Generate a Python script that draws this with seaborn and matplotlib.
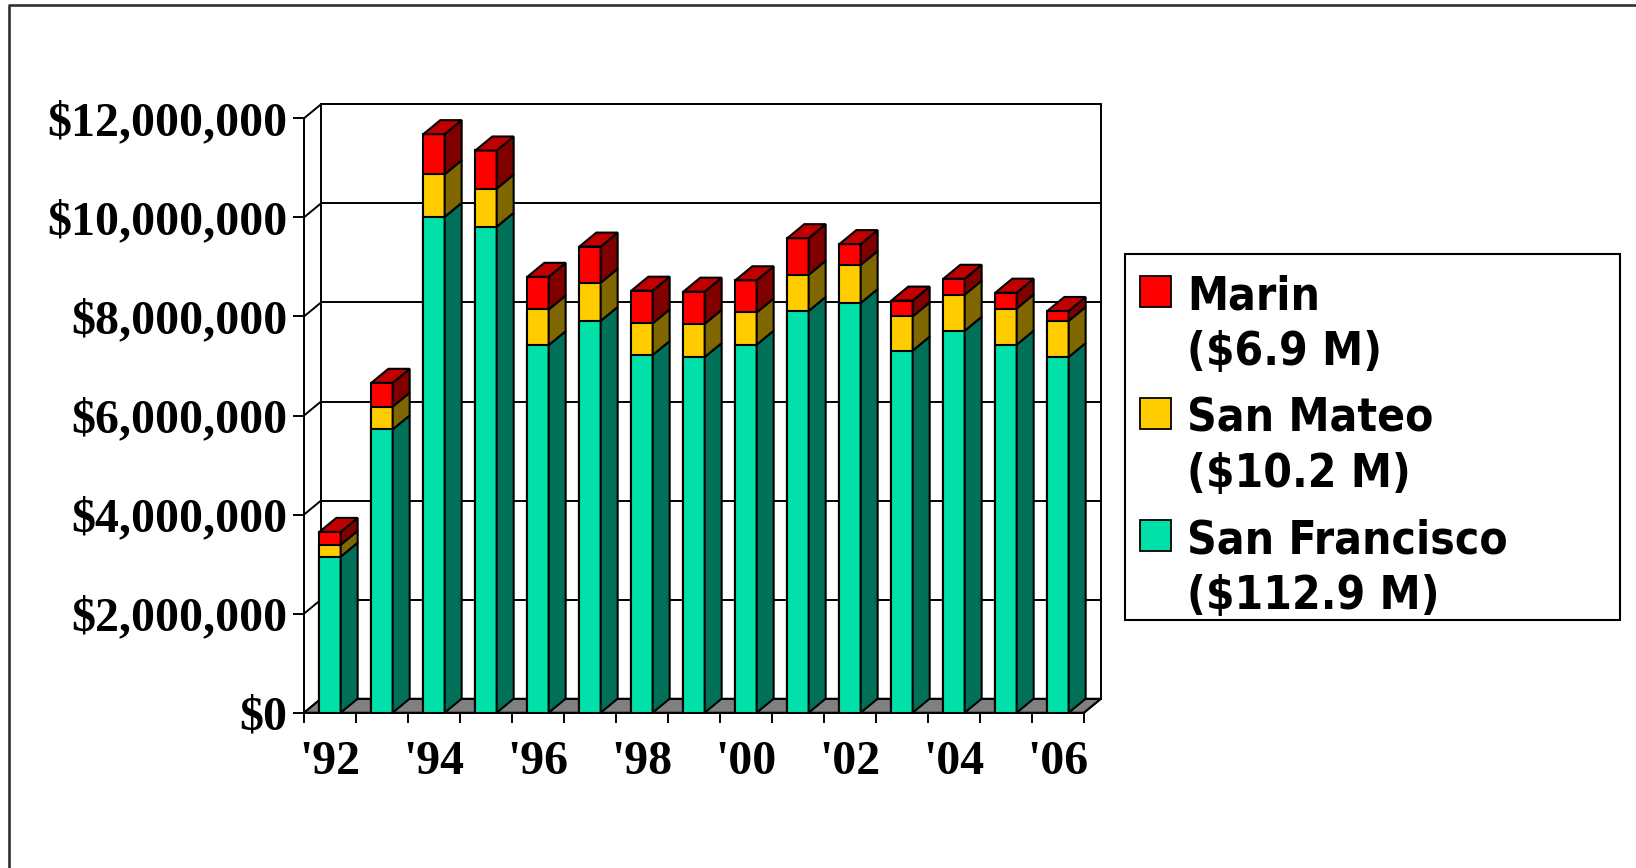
import numpy as np
import pandas as pd
import matplotlib
matplotlib.use("Agg")
import matplotlib.pyplot as plt
import seaborn as sns
from matplotlib.patches import Polygon, Rectangle
from matplotlib.lines import Line2D
from matplotlib.ticker import FuncFormatter, FixedLocator

# ---- data (dollars per year, stacked by county) ----
years = ["'92", "'93", "'94", "'95", "'96", "'97", "'98", "'99",
         "'00", "'01", "'02", "'03", "'04", "'05", "'06"]
san_francisco = [3.15e6, 5.72e6, 10.01e6, 9.81e6, 7.42e6, 7.91e6, 7.22e6, 7.18e6,
                 7.43e6, 8.11e6, 8.27e6, 7.31e6, 7.71e6, 7.43e6, 7.18e6]
san_mateo = [0.24e6, 0.46e6, 0.86e6, 0.77e6, 0.72e6, 0.77e6, 0.64e6, 0.67e6,
             0.65e6, 0.73e6, 0.77e6, 0.69e6, 0.73e6, 0.73e6, 0.73e6]
marin = [0.26e6, 0.48e6, 0.81e6, 0.77e6, 0.66e6, 0.73e6, 0.66e6, 0.65e6,
         0.65e6, 0.74e6, 0.42e6, 0.32e6, 0.32e6, 0.32e6, 0.20e6]
legend_labels = [("Marin", "($6.9 M)"),
                 ("San Mateo", "($10.2 M)"),
                 ("San Francisco", "($112.9 M)")]
y_ticks = [0, 2e6, 4e6, 6e6, 8e6, 10e6, 12e6]

# ---- colours: front face, side face, top face ----
GREEN = ("#00E0A8", "#007058", "#00A880")
YELLOW = ("#FFCC00", "#806600", "#C09900")
RED = ("#FF0000", "#800000", "#C00000")

sns.set_style("white", rc={"text.color": "black", "axes.labelcolor": "black",
                           "xtick.color": "black", "ytick.color": "black"})
plt.rcParams["font.family"] = ["Liberation Serif", "DejaVu Serif"]

W, H, DPI = 1636, 868, 100
fig = plt.figure(figsize=(W / DPI, H / DPI), dpi=DPI)

# front plane of the plot area (pixels)
x0_px, x1_px = 304, 1084
ytop_px, ybot_px = 118.3, 712.7
ax = fig.add_axes([x0_px / W, (H - ybot_px) / H,
                   (x1_px - x0_px) / W, (ybot_px - ytop_px) / H])
ax.set_facecolor("none")

n = len(years)
ymax = 12e6
# depth of the 3-D box in pixels, converted into data units
depth_dx_px, depth_dy_px = 17, 14
dx = depth_dx_px / ((x1_px - x0_px) / n)
dy = depth_dy_px * ymax / (ybot_px - ytop_px)

sf = np.array(san_francisco)
sm = np.array(san_mateo)
mr = np.array(marin)
df = pd.DataFrame({"year": years,
                   "sf": sf,
                   "sf_sm": sf + sm,
                   "total": sf + sm + mr})

bar_w = 0.41
edge_lw = 1.5
wall_lw = 1.4

# floor and walls (drawn behind the bars)
xl, xr = -0.5, n - 0.5
floor = Polygon([(xl, 0), (xr, 0), (xr + dx, dy), (xl + dx, dy)],
                closed=True, facecolor="#808080", edgecolor="black",
                lw=wall_lw, zorder=1, clip_on=False)
ax.add_patch(floor)
for v in y_ticks:
    ax.add_line(Line2D([xl + dx, xr + dx], [v + dy, v + dy], color="black",
                       lw=wall_lw, zorder=1.5, clip_on=False))
    ax.add_line(Line2D([xl, xl + dx], [v, v + dy], color="black",
                       lw=wall_lw, zorder=1.5, clip_on=False))
for xv in (xl + dx, xr + dx):
    ax.add_line(Line2D([xv, xv], [dy, ymax + dy], color="black",
                       lw=wall_lw, zorder=1.5, clip_on=False))
ax.add_line(Line2D([xr, xr + dx], [0, dy], color="black",
                   lw=wall_lw, zorder=1.5, clip_on=False))

# front faces: cumulative totals layered from tallest to shortest
for col, colors in (("total", RED), ("sf_sm", YELLOW), ("sf", GREEN)):
    sns.barplot(data=df, x="year", y=col, order=years, color=colors[0],
                saturation=1, width=bar_w, edgecolor="black",
                linewidth=edge_lw, errorbar=None, ax=ax, zorder=4)

# side and top faces built from the same stacked values
for i in range(n):
    right = i + bar_w / 2
    left = i - bar_w / 2
    bounds = [(0, sf[i], GREEN), (sf[i], sf[i] + sm[i], YELLOW),
              (sf[i] + sm[i], sf[i] + sm[i] + mr[i], RED)]
    for lo, hi, colors in bounds:
        side = Polygon([(right, lo), (right + dx, lo + dy),
                        (right + dx, hi + dy), (right, hi)],
                       closed=True, facecolor=colors[1], edgecolor="black",
                       lw=edge_lw, zorder=5, clip_on=False)
        ax.add_patch(side)
    top = sf[i] + sm[i] + mr[i]
    lid = Polygon([(left, top), (right, top), (right + dx, top + dy),
                   (left + dx, top + dy)],
                  closed=True, facecolor=RED[2], edgecolor="black",
                  lw=edge_lw, zorder=5, clip_on=False)
    ax.add_patch(lid)

# axes, ticks, labels
ax.set_xlim(xl, xr)
ax.set_ylim(0, ymax)
ax.set_xlabel("")
ax.set_ylabel("")
for s in ("top", "right"):
    ax.spines[s].set_visible(False)
for s in ("left", "bottom"):
    ax.spines[s].set_color("black")
    ax.spines[s].set_linewidth(wall_lw)
    ax.spines[s].set_zorder(6)

ax.set_yticks(y_ticks)
ax.yaxis.set_major_formatter(FuncFormatter(lambda v, p: f"${v:,.0f}"))
ax.tick_params(axis="y", which="major", direction="out", length=8,
               width=1.4, color="black", labelcolor="black", pad=4,
               labelsize=34.5, left=True)

label_pos = list(range(0, n, 2))
ax.xaxis.set_major_locator(FixedLocator(label_pos))
ax.set_xticklabels([years[i] for i in label_pos])
ax.xaxis.set_minor_locator(FixedLocator(np.arange(xl, xr + 0.01, 1.0)))
ax.tick_params(axis="x", which="major", length=0, pad=20, labelsize=34.5,
               labelcolor="black", bottom=True)
ax.tick_params(axis="x", which="minor", direction="out", length=7.5,
               width=1.4, color="black", bottom=True)
for lab in ax.get_xticklabels() + ax.get_yticklabels():
    lab.set_fontweight("bold")
    lab.set_color("black")

# legend box
def px(x, y):
    return x / W, 1 - y / H

lx0, ly0, lx1, ly1 = 1125, 254.3, 1620, 620
fig.add_artist(Rectangle(px(lx0, ly1), (lx1 - lx0) / W, (ly1 - ly0) / H,
                         transform=fig.transFigure, facecolor="white",
                         edgecolor="black", lw=1.5))
baselines = [(309, 365), (431, 487), (553, 608.5)]
for (name, total), (b1, b2), colors in zip(legend_labels, baselines,
                                           (RED, YELLOW, GREEN)):
    fig.add_artist(Rectangle(px(1140, b1 - 2), 31 / W, 31 / H,
                             transform=fig.transFigure, facecolor=colors[0],
                             edgecolor="black", lw=1.3))
    for txt, b in ((name, b1), (total, b2)):
        fig.text(*px(1187, b), txt, fontsize=33, fontweight="bold",
                 family=["DejaVu Sans"], fontstretch="condensed",
                 color="black", va="baseline", ha="left")

# outer frame of the chart area
fig.add_artist(Line2D([8.5 / W, 8.5 / W, 1.0], [0.0, 1 - 5 / H, 1 - 5 / H],
                      transform=fig.transFigure, color="#303030", lw=1.9))

fig.savefig("out.png", dpi=DPI)
